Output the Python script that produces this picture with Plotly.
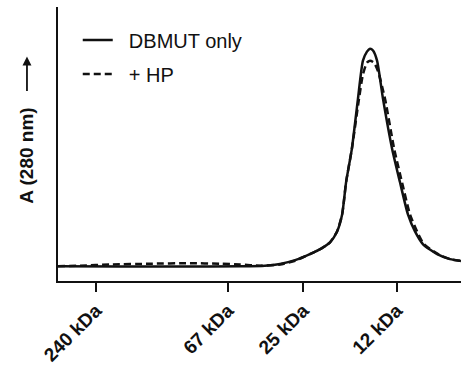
import plotly.graph_objects as go

# Elution volume (mL) and absorbance (arbitrary units)
vol_dbmut = [8.00, 9.85, 11.63, 13.42, 14.16, 14.61, 15.06, 15.50, 15.86, 16.10, 16.31,
             16.46, 16.58, 16.75, 16.93, 17.08, 17.20, 17.29, 17.38, 17.50, 17.68,
             17.95, 18.18, 18.42, 18.63, 18.87, 19.29, 19.67, 20.00]
abs_dbmut = [5.4, 5.3, 5.3, 5.4, 5.6, 6.2, 7.6, 9.8, 12.0, 14.1, 18.1,
             24.3, 36.2, 48.2, 66.3, 80.4, 83.7, 84.8, 84.1, 80.4, 66.3,
             48.2, 36.2, 24.3, 18.1, 13.4, 9.8, 8.0, 7.3]

vol_hp = [8.00, 8.66, 9.55, 10.74, 11.93, 12.82, 13.42, 14.02, 14.61, 15.06, 15.50,
          15.86, 16.10, 16.31, 16.46, 16.58, 16.75, 16.96, 17.08, 17.20, 17.29,
          17.41, 17.53, 17.74, 18.01, 18.24, 18.48, 18.69, 18.90, 19.32, 19.67, 20.00]
abs_hp = [5.4, 5.6, 6.0, 6.3, 6.5, 6.3, 6.0, 5.6, 6.0, 7.4, 9.8,
          12.0, 14.1, 18.1, 24.3, 36.2, 48.2, 66.3, 75.4, 79.7, 80.4,
          79.7, 76.5, 66.3, 48.2, 36.2, 24.3, 18.1, 13.4, 9.8, 8.0, 7.3]

marker_vol = [9.13, 13.06, 15.30, 18.09]
marker_text = ["240 kDa", "67 kDa", "25 kDa", "12 kDa"]

NBSP = "\u00a0"

fig = go.Figure()
fig.add_trace(go.Scatter(
    x=vol_dbmut, y=abs_dbmut, mode="lines", name=NBSP * 2 + "DBMUT only",
    legendgroup="a",
    line=dict(color="#111111", width=2.5, shape="spline", smoothing=0.6),
))
fig.add_trace(go.Scatter(
    x=vol_hp, y=abs_hp, mode="lines", name=NBSP * 2 + "+ HP",
    legendgroup="b",
    line=dict(color="#111111", width=2.5, dash="7px,4px", shape="spline", smoothing=0.6),
))

fig.update_layout(
    width=461, height=366,
    margin=dict(l=58, r=0, t=7, b=83),
    paper_bgcolor="white", plot_bgcolor="white",
    font=dict(family="Arial, Liberation Sans, sans-serif", color="#111111"),
    showlegend=True,
    legend=dict(
        x=0.049, y=0.951, xanchor="left", yanchor="top",
        bgcolor="rgba(0,0,0,0)",
        font=dict(size=20),
        itemwidth=30, traceorder="grouped", tracegroupgap=5,
    ),
    xaxis=dict(
        range=[8, 20], showgrid=False, zeroline=False,
        showline=True, linecolor="#111111", linewidth=2,
        tickmode="array", tickvals=marker_vol, ticktext=marker_text,
        ticks="outside", ticklen=9, tickwidth=2, tickcolor="#111111",
        tickangle=-45, tickfont=dict(size=19, weight="bold", color="#111111"),
    ),
    yaxis=dict(
        range=[0, 100], showgrid=False, zeroline=False,
        showline=True, linecolor="#111111", linewidth=2,
        showticklabels=False, ticks="",
    ),
    annotations=[
        dict(text="A (280 nm)", xref="paper", yref="paper",
             x=-0.077, y=0.457, textangle=-90, showarrow=False,
             font=dict(size=19, weight="bold", color="#111111"),
             xanchor="center", yanchor="middle"),
        dict(text="", xref="paper", yref="paper",
             x=-0.077, y=0.819, ax=0, ay=36, showarrow=True,
             arrowhead=2, arrowsize=1, arrowwidth=1.8, arrowcolor="#111111",
             standoff=0),
    ],
)

fig.write_html("out.html")
